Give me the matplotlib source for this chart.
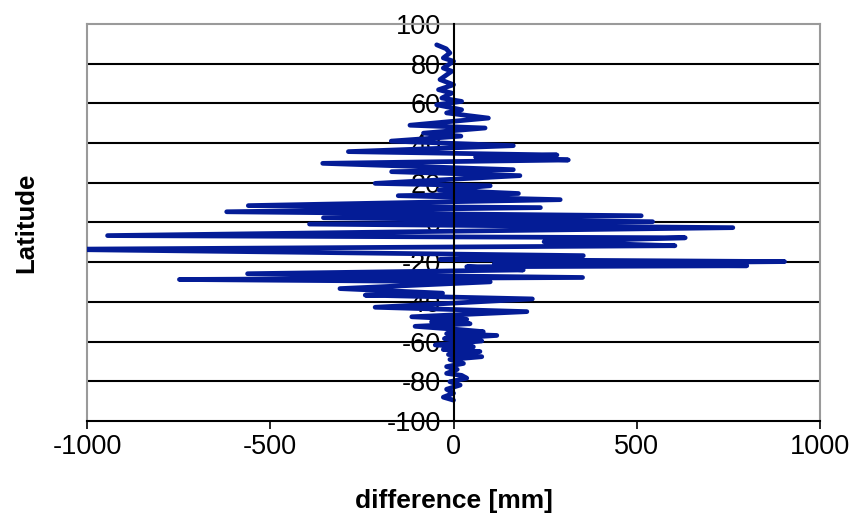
"""Zonal difference profile: difference [mm] against latitude."""

import matplotlib.pyplot as plt
import matplotlib.ticker as mticker

plt.rcParams["font.family"] = ["Liberation Sans", "DejaVu Sans"]
plt.rcParams["axes.unicode_minus"] = False

# latitude of each zonal band, north to south
latitude = [
    89.5, 87.5, 85.4, 82.9, 81.2, 77.8, 76.2, 72.0, 69.4, 66.9,
    65.2, 62.7, 61.0, 59.3, 56.8, 55.2, 52.6, 49.0, 47.6, 45.0,
    43.5, 41.0, 38.7, 35.7, 34.0, 33.0, 31.5, 29.8, 26.6, 25.6,
    23.6, 19.7, 18.5, 16.4, 14.6, 13.5, 11.5, 8.5, 7.5, 5.4,
    3.4, 2.4, 0.4, -0.8, -2.6, -6.6, -7.7, -9.7, -11.7, -13.5,
    -16.7, -18.6, -19.7, -20.9, -21.8, -22.3, -23.9, -25.8, -27.7, -28.7,
    -29.9, -33.3, -35.6, -36.6, -38.5, -42.7, -44.9, -47.5, -48.8, -50.0,
    -51.0, -52.3, -54.0, -55.0, -56.0, -56.9, -58.5, -59.7, -61.7, -62.6,
    -64.0, -65.0, -66.5, -67.6, -69.0, -71.0, -72.6, -74.0, -76.0, -77.0,
    -78.4, -80.2, -81.9, -84.0, -86.0, -88.0, -89.5,
]

# difference in mm for each band
difference = [
    -46, -20, -10, -28, 0, -28, -5, -37, 0, -41,
    -5, -32, 22, -46, 22, -19, 95, -119, 86, -82,
    20, -170, 163, -287, 282, 60, 313, -357, 163, -169,
    181, -214, 100, -40, 177, -151, 291, -560, 237, -619,
    512, -355, 543, -393, 762, -944, 632, 247, 604, -1100,
    354, -37, 903, 111, 800, 36, 190, -562, 352, -748,
    100, -310, -30, -241, 215, -214, 200, -114, 36, -60,
    45, -105, 20, 81, -19, 118, -25, 77, -50, 54,
    -28, 72, -14, 77, -10, 27, -19, 10, -19, 22,
    36, -10, 18, -19, 0, -28, 0,
]

x_ticks = [-1000, -500, 0, 500, 1000]
y_ticks = [-100, -80, -60, -40, -20, 0, 20, 40, 60, 80, 100]

fig = plt.figure(figsize=(8.5, 5.19), dpi=100)
ax = fig.add_axes([0.1024, 0.1888, 0.8624, 0.765])

ax.plot(difference, latitude, color="#041c96", lw=3.4,
        solid_capstyle="round", solid_joinstyle="round", zorder=3)

ax.set_xlim(-1000, 1000)
ax.set_ylim(-100, 100)
ax.xaxis.set_major_locator(mticker.FixedLocator(x_ticks))
ax.yaxis.set_major_locator(mticker.FixedLocator(y_ticks))

# black horizontal gridlines
for y in y_ticks[1:-1]:
    ax.axhline(y, color="black", lw=1.5, zorder=1)

# y axis runs through zero
ax.spines["left"].set_position(("data", 0))
ax.spines["left"].set_color("black")
ax.spines["left"].set_linewidth(1.5)
ax.spines["left"].set_zorder(4)
ax.spines["bottom"].set_color("black")
ax.spines["bottom"].set_linewidth(1.5)
for side in ("top", "right"):
    ax.spines[side].set_color("#9a9a9a")
    ax.spines[side].set_linewidth(1.5)
# gray border on the left edge of the plot area
ax.plot([-1000, -1000], [-100, 100], color="#9a9a9a", lw=1.5,
        clip_on=False, zorder=2)

ax.tick_params(axis="both", labelsize=19.5, colors="black", width=1.2,
               direction="out", length=6)
ax.tick_params(axis="y", pad=3)
ax.tick_params(axis="x", pad=3)

ax.set_xlabel("difference [mm]", fontsize=19, fontweight="bold")
ax.xaxis.set_label_coords(0.5, -0.172, transform=ax.transAxes)
ax.set_ylabel("Latitude", fontsize=18.5, fontweight="bold")
ax.yaxis.set_label_coords(-0.067, 0.5, transform=ax.transAxes)

fig.savefig("out.png", dpi=100)
